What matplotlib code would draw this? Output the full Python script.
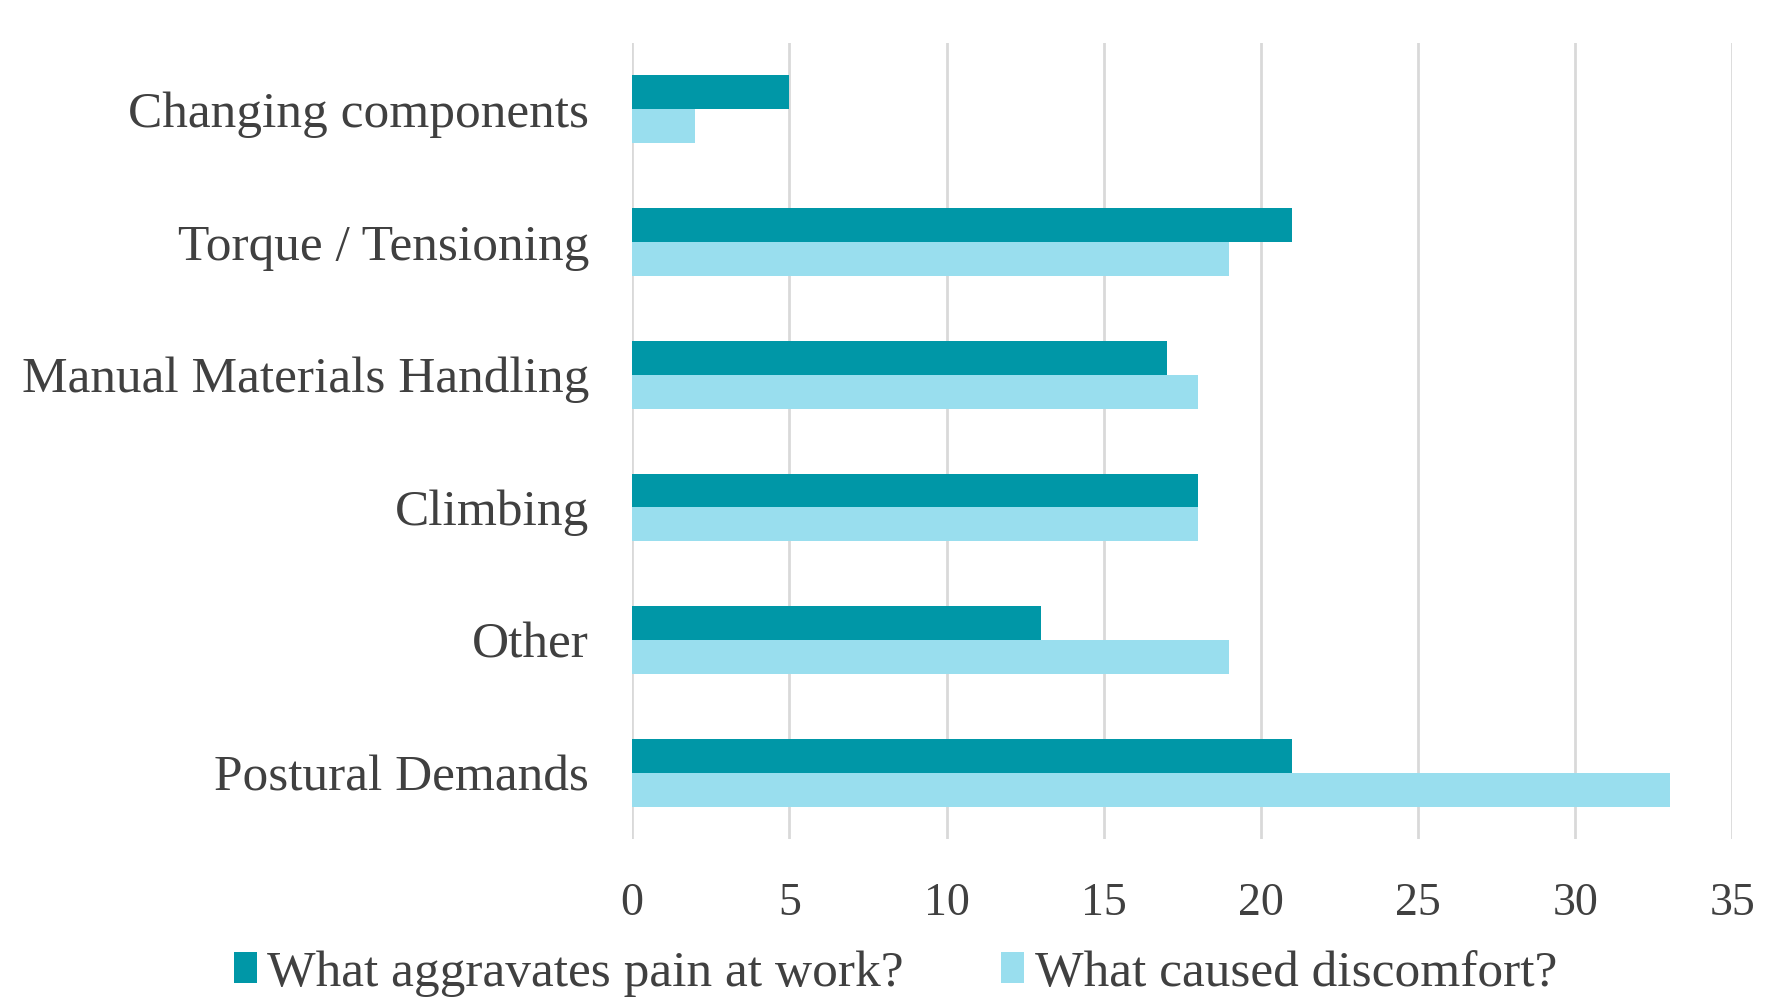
import matplotlib.pyplot as plt
import numpy as np

categories = ['Postural Demands', 'Other', 'Climbing', 'Manual Materials Handling',
              'Torque / Tensioning', 'Changing components']
aggravates = [21, 13, 18, 17, 21, 5]
discomfort = [33, 19, 18, 18, 19, 2]
series_names = ['What aggravates pain at work?', 'What caused discomfort?']

plt.rcParams['font.family'] = ['Liberation Serif', 'DejaVu Serif']

fig = plt.figure(figsize=(17.66, 9.98), dpi=100)
ax = fig.add_axes([0.358, 0.159, 0.623, 0.798])

y = np.arange(len(categories))
h = 0.255
ax.barh(y + h / 2, aggravates, height=h, color='#0097A7', label=series_names[0], zorder=3)
ax.barh(y - h / 2, discomfort, height=h, color='#99DEEE', label=series_names[1], zorder=3)

ax.set_xlim(0, 35)
ax.set_ylim(-0.5, 5.5)
ax.set_xticks(range(0, 36, 5))
ax.set_yticks(y)
ax.set_yticklabels(categories)
ax.grid(axis='x', color='#D9D9D9', linewidth=2, zorder=0)
for s in ax.spines.values():
    s.set_visible(False)
ax.tick_params(axis='y', length=0, pad=31, labelsize=37, labelcolor='#404040')
ax.tick_params(axis='x', length=0, pad=31, labelsize=33, labelcolor='#404040')

fig.legend(loc='lower center', bbox_to_anchor=(0.507, -0.045), ncol=2, frameon=False,
           fontsize=37, handlelength=0.45, handleheight=0.55, handletextpad=0.2,
           columnspacing=1.9, labelcolor='#404040')

fig.savefig('out.png', dpi=100)
